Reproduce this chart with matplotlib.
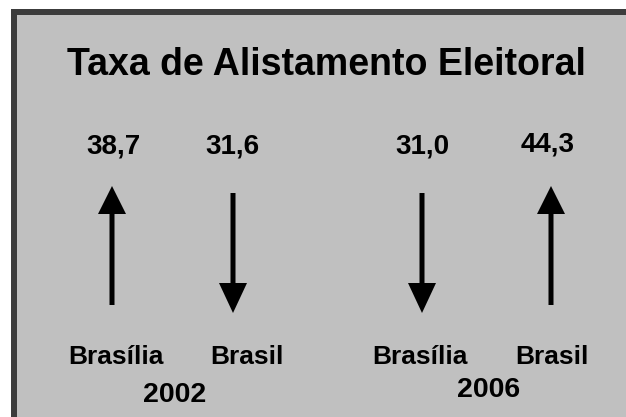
import matplotlib
matplotlib.use("Agg")
import matplotlib.pyplot as plt
from matplotlib.patches import Rectangle, FancyArrow

plt.rcParams['font.family'] = ['Liberation Sans', 'DejaVu Sans']

# dados
anos = ["2002", "2006"]
locais = ["Brasília", "Brasil"]
taxa_2002 = [38.7, 31.6]
taxa_2006 = [31.0, 44.3]
titulo = "Taxa de Alistamento Eleitoral"

# layout (pixels)
W, H = 626, 417
col_x = [[113, 232], [422, 548]]
arrow_x = [[112, 233], [422, 551]]
label_x = [[116, 247], [420, 552]]
year_pos = [(175, 402), (489, 397)]
num_base = [[153, 153], [153, 151]]

fig = plt.figure(figsize=(W / 100, H / 100), dpi=100)
fig.patch.set_facecolor("white")
ax = fig.add_axes([0, 0, 1, 1])
ax.set_xlim(0, W)
ax.set_ylim(H, 0)
ax.axis("off")

# moldura
ax.add_patch(Rectangle((11, 9), W, H, facecolor="#3c3c3c", edgecolor="none"))
ax.add_patch(Rectangle((17, 15), W, H, facecolor="#c0c0c0", edgecolor="none"))

ax.text(326, 75, titulo, ha="center", va="baseline", fontsize=27,
        fontweight="bold", color="black")

for i, vals in enumerate([taxa_2002, taxa_2006]):
    for j, v in enumerate(vals):
        txt = f"{v:.1f}".replace(".", ",")
        ax.text(col_x[i][j], num_base[i][j], txt, ha="center", va="baseline",
                fontsize=20, fontweight="bold")
        up = v == max(vals)
        x = arrow_x[i][j]
        if up:
            a = FancyArrow(x, 305, 0, -119, width=5, head_width=28,
                           head_length=28, length_includes_head=True,
                           color="black", lw=0)
        else:
            a = FancyArrow(x, 193, 0, 120, width=5, head_width=28,
                           head_length=30, length_includes_head=True,
                           color="black", lw=0)
        ax.add_patch(a)
        ax.text(label_x[i][j], 364, locais[j], ha="center", va="baseline",
                fontsize=19, fontweight="bold")
    ax.text(year_pos[i][0], year_pos[i][1], anos[i], ha="center",
            va="baseline", fontsize=20.5, fontweight="bold")

fig.savefig("out.png", dpi=100, facecolor=fig.get_facecolor())
